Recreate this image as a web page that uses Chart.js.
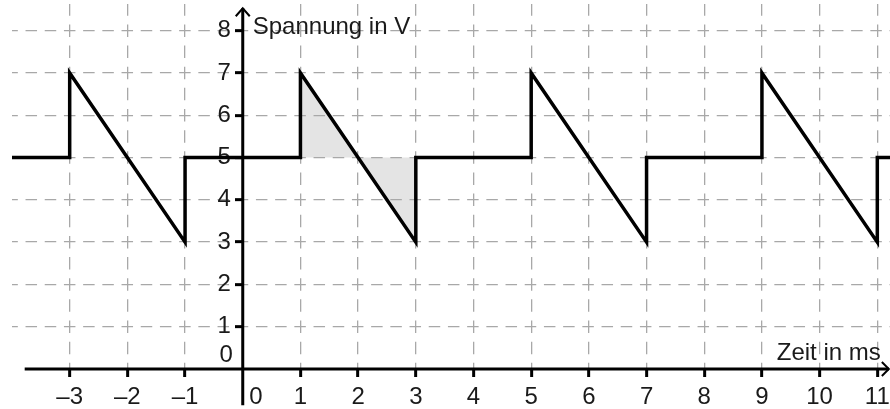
<!DOCTYPE html>
<html>
<head>
<meta charset="utf-8">
<title>Spannung / Zeit</title>
<script src="https://cdn.jsdelivr.net/npm/chart.js@4.4.1/dist/chart.umd.min.js"></script>
<style>
  html, body { margin: 0; padding: 0; background: #fff; }
  canvas { display: block; }
</style>
</head>
<body>
<canvas id="c" width="890" height="409"></canvas>
<script>
// ---- Data (Zeit in ms / Spannung in V) ----
var SIG_X = [-4, -3, -3, -1, -1, 1, 1, 3, 3, 5, 5, 7, 7, 9, 9, 11, 11, 11.22];
var SIG_Y = [ 5,  5,  7,  3,  5, 5, 7, 3, 5, 5, 7, 3, 5, 5, 7,  3,  5,  5];
var SHADE_X = [1, 3];
var SHADE_Y = [7, 3];
var SHADE_BASE = 5;

var X_TICKS = [-3, -2, -1, 1, 2, 3, 4, 5, 6, 7, 8, 9, 10, 11];
var Y_TICKS = [1, 2, 3, 4, 5, 6, 7, 8];
var X_RANGE = [-4, 11.22];
var Y_RANGE = [0, 8.63];

var X_TITLE = 'Zeit in ms';
var Y_TITLE = 'Spannung in V';

// ---- Style ----
var INK = '#1a1a1a';
var GRID = '#a8a8a8';
var SHADE = '#e4e4e4';
var FONT = { family: '"Liberation Sans", Arial, sans-serif', size: 24 };
var HDASH = [11.5, 7.7];   // horizontal grid lines (3 dashes per x unit)
var VDASH = [12.5, 8.65];  // vertical grid lines (2 dashes per y unit)

function pts(xs, ys) { return xs.map(function (x, i) { return { x: x, y: ys[i] }; }); }
function fmtX(v) { return v < 0 ? '\u2013' + (-v) : String(v); }
// y-axis sits at x=0 (object position): labels are right-aligned on the axis itself,
// so an en space keeps them clear of the line.
function fmtY(v) { return v + '\u2002'; }
function phase(start, center, dash) {
  var period = dash[0] + dash[1];
  var o = (start - center + dash[0] / 2) % period;
  return o < 0 ? o + period : o;
}

// Axis lines, arrows, the two shifted zeros and the axis captions.
var decor = {
  id: 'decor',
  afterDatasetsDraw: function (chart) {
    var xs = chart.scales.x, ys = chart.scales.y, ctx = chart.ctx;
    var x0 = xs.getPixelForValue(0), y0 = ys.getPixelForValue(0);
    var xEnd = xs.getPixelForValue(11.2), yTop = ys.getPixelForValue(8.53);
    ctx.save();
    ctx.strokeStyle = '#000';
    ctx.lineWidth = 3;
    ctx.beginPath();
    ctx.moveTo(xs.getPixelForValue(-3.78), y0); ctx.lineTo(xEnd, y0);
    ctx.moveTo(x0, ys.getPixelForValue(-0.86)); ctx.lineTo(x0, yTop);
    ctx.stroke();
    ctx.lineWidth = 2;
    ctx.beginPath();
    ctx.moveTo(xEnd - 7, y0 - 7); ctx.lineTo(xEnd, y0); ctx.lineTo(xEnd - 7, y0 + 7);
    ctx.moveTo(x0 - 7, yTop + 8); ctx.lineTo(x0, yTop); ctx.lineTo(x0 + 7, yTop + 8);
    ctx.stroke();

    ctx.fillStyle = INK;
    ctx.font = FONT.size + 'px ' + FONT.family;
    ctx.textBaseline = 'middle';
    ctx.textAlign = 'right';
    ctx.fillText('0', x0 - 10, ys.getPixelForValue(0.33));
    ctx.textAlign = 'center';
    ctx.fillText('0', xs.getPixelForValue(0.23), y0 + 28);
    ctx.textBaseline = 'alphabetic';
    ctx.textAlign = 'left';
    ctx.fillText(Y_TITLE, x0 + 10, ys.getPixelForValue(7.93));
    ctx.textAlign = 'right';
    ctx.fillText(X_TITLE, xs.getPixelForValue(11.06), ys.getPixelForValue(0.21));
    ctx.restore();
  }
};

document.addEventListener('DOMContentLoaded', function () {
  new Chart(document.getElementById('c'), {
    type: 'line',
    data: { datasets: [
      { data: pts(SHADE_X, SHADE_Y), fill: { value: SHADE_BASE }, backgroundColor: SHADE,
        borderWidth: 0, pointRadius: 0, tension: 0 },
      { data: pts(SIG_X, SIG_Y), fill: false, borderColor: '#000', borderWidth: 3.5,
        borderJoinStyle: 'miter', pointRadius: 0, tension: 0 }
    ] },
    options: {
      responsive: false, animation: false, events: [],
      layout: { padding: { left: 12, top: 4, right: 0, bottom: 0 } },
      plugins: { legend: { display: false }, tooltip: { enabled: false }, filler: { drawTime: 'beforeDraw' } },
      scales: {
        x: {
          type: 'linear', position: 'bottom', min: X_RANGE[0], max: X_RANGE[1],
          afterBuildTicks: function (s) { s.ticks = X_TICKS.map(function (v) { return { value: v }; }); },
          afterFit: function (s) { s.height = 40; s.paddingLeft = 0; s.paddingRight = 0; },
          grid: { color: GRID, lineWidth: 1.3, tickColor: '#000', tickWidth: 3, tickLength: 8 },
          border: { display: false, dash: VDASH, dashOffset: function (c) {
            var ch = c.chart; return phase(ch.chartArea.top, ch.scales.y.getPixelForValue(8), VDASH); } },
          ticks: { color: INK, font: FONT, padding: 6, maxRotation: 0, autoSkip: false, callback: fmtX }
        },
        y: {
          type: 'linear', position: { x: 0 }, min: Y_RANGE[0], max: Y_RANGE[1],
          afterBuildTicks: function (s) { s.ticks = Y_TICKS.map(function (v) { return { value: v }; }); },
          afterFit: function (s) { s.paddingTop = 0; s.paddingBottom = 0; s.paddingLeft = 0; s.paddingRight = 0; },
          grid: { color: GRID, lineWidth: 1.3, tickColor: '#000', tickWidth: 3, tickLength: 8 },
          border: { display: false, dash: HDASH, dashOffset: function (c) {
            var ch = c.chart; return phase(ch.chartArea.left, ch.scales.x.getPixelForValue(-3), HDASH); } },
          ticks: { color: INK, font: FONT, padding: 2, autoSkip: false, callback: fmtY }
        }
      }
    },
    plugins: [decor]
  });
});
</script>
</body>
</html>
